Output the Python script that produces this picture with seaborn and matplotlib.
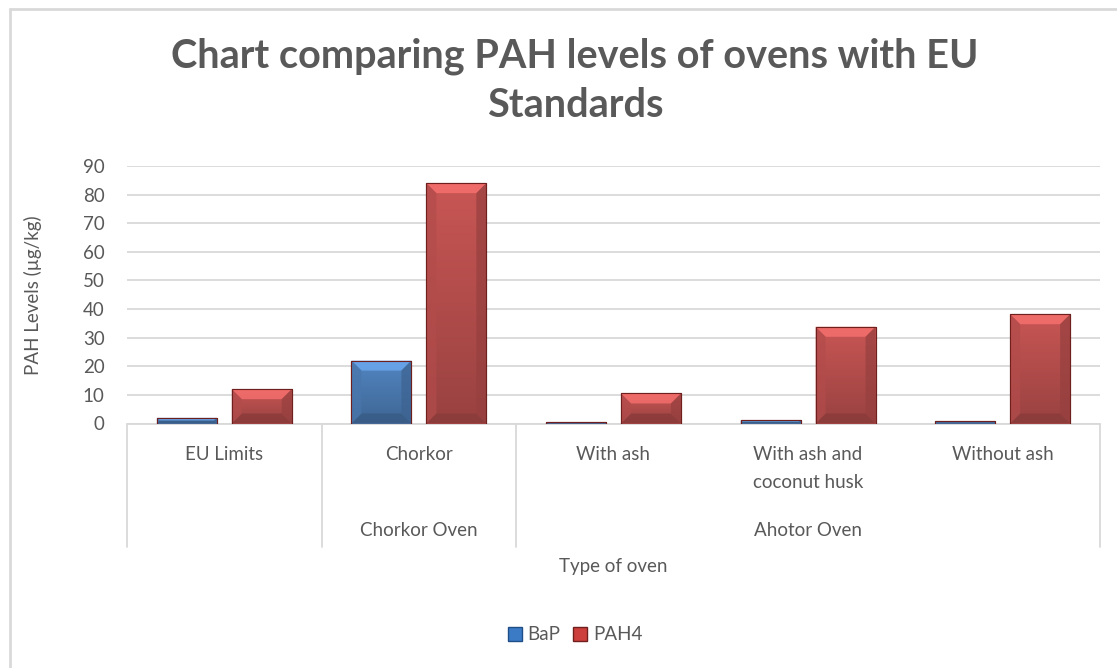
import numpy as np
import pandas as pd
import matplotlib
matplotlib.use('Agg')
import matplotlib.pyplot as plt
import seaborn as sns
from matplotlib.patches import Polygon, Patch
from matplotlib.lines import Line2D
from matplotlib.colors import to_rgb

# Data
ovens = ['EU Limits', 'Chorkor', 'With ash', 'With ash and\ncoconut husk', 'Without ash']
bap = [2, 22, 0.5, 1.2, 0.8]
pah4 = [12, 84, 10.5, 33.8, 38.2]
series = ['BaP', 'PAH4']
group_names = ['', 'Chorkor Oven', 'Ahotor Oven']
group_sizes = [1, 1, 3]

colors = ['#3B7BC6', '#CD3F3D']
edge_colors = ['#1F4E86', '#6E1F1E']
text_color = '#595959'
grid_color = '#D9D9D9'
fs = 13.5

df = pd.DataFrame({
    'oven': ovens * 2,
    'series': ['BaP'] * len(ovens) + ['PAH4'] * len(ovens),
    'value': bap + pah4,
})

sns.set_style('white')
plt.rcParams['font.family'] = ['Lato', 'DejaVu Sans']

W, H = 1117, 668
fig = plt.figure(figsize=(W / 100, H / 100), dpi=100)
ax = fig.add_axes([127 / W, 1 - 423.5 / H, 973 / W, 257.5 / H])

sns.barplot(data=df, x='oven', y='value', hue='series', hue_order=series,
            palette=colors, width=0.77, gap=0.2, ax=ax, legend=False,
            linewidth=0.8, zorder=3)

ax.set_ylim(0, 90)
ax.set_xlim(-0.5, len(ovens) - 0.5)
ax.set_yticks(range(0, 91, 10))
ax.tick_params(axis='y', length=0, labelsize=fs, labelcolor=text_color, pad=16)
ax.set_xticks([])
ax.set_xlabel('')
ax.set_ylabel('')
ax.yaxis.grid(True, color=grid_color, lw=1.3, zorder=0)
for s in ax.spines.values():
    s.set_visible(False)

# Bevel look for the bars
fig.canvas.draw()
inv = ax.transData.inverted()
px_x = abs(inv.transform((10, 0))[0] - inv.transform((0, 0))[0])
px_y = abs(inv.transform((0, 10))[1] - inv.transform((0, 0))[1])
bars = [p for p in ax.patches if p.get_height() > 0]
for p in bars:
    fc = np.array(to_rgb(p.get_facecolor()))
    idx = 0 if abs(fc - np.array(to_rgb(colors[0]))).sum() < 0.1 else 1
    p.set_edgecolor(edge_colors[idx])
    x0, y0 = p.get_x(), p.get_y()
    x1, y1 = x0 + p.get_width(), y0 + p.get_height()
    # vertical gradient fill
    grad = np.linspace(1.07, 0.82, 64).reshape(-1, 1)
    img = np.clip(fc[None, None, :] * grad[:, :, None], 0, 1)
    im = ax.imshow(img, extent=(x0, x1, y0, y1), aspect='auto', zorder=3.5,
                   interpolation='bilinear')
    im.set_clip_path(p)
    by = min(px_y, p.get_height() / 2)
    bx = px_x * by / px_y
    light = np.clip(fc * 1.3 + 0.05, 0, 1)
    dark = fc * 0.72
    side_l = fc * 0.95
    side_r = fc * 0.8
    polys = [
        ([(x0, y1), (x1, y1), (x1 - bx, y1 - by), (x0 + bx, y1 - by)], light),
        ([(x0, y0), (x1, y0), (x1 - bx, y0 + by), (x0 + bx, y0 + by)], dark),
        ([(x0, y0), (x0 + bx, y0 + by), (x0 + bx, y1 - by), (x0, y1)], side_l),
        ([(x1, y0), (x1 - bx, y0 + by), (x1 - bx, y1 - by), (x1, y1)], side_r),
    ]
    for pts, c in polys:
        ax.add_patch(Polygon(pts, closed=True, facecolor=c, edgecolor='none',
                             alpha=0.7, zorder=3.6))
    ax.add_patch(Polygon([(x0, y0), (x1, y0), (x1, y1), (x0, y1)], closed=True,
                         facecolor='none', edgecolor=edge_colors[idx], lw=0.8, zorder=3.7))

# Multi-level category axis
xt = ax.get_xaxis_transform()
line_kw = dict(color=grid_color, lw=1.3, clip_on=False, transform=xt, zorder=1)
ax.plot([-0.5, len(ovens) - 0.5], [0, 0], **line_kw)
bottom = -0.478
start = -0.5
bounds = [start]
for n in group_sizes:
    start += n
    bounds.append(start)
for b in bounds:
    ax.plot([b, b], [0, bottom], **line_kw)

for i, name in enumerate(ovens):
    ax.text(i, -0.088, name, transform=xt, ha='center', va='top', fontsize=fs,
            color=text_color, linespacing=1.75)

for k, name in enumerate(group_names):
    center = (bounds[k] + bounds[k + 1]) / 2
    ax.text(center, -0.417, name, transform=xt, ha='center', va='center',
            fontsize=fs, color=text_color)

ax.text(0.5, -0.557, 'Type of oven', transform=ax.transAxes, ha='center',
        va='center', fontsize=fs, color=text_color)

fig.text(33 / W, 1 - 295 / H, 'PAH Levels (µg/kg)', rotation=90, ha='center',
         va='center', fontsize=fs, color=text_color)

fig.text(575 / W, 1 - 81 / H, 'Chart comparing PAH levels of ovens with EU\nStandards',
         ha='center', va='center', fontsize=28.5, fontweight='bold', color=text_color,
         linespacing=1.4)

handles = [Patch(facecolor=colors[i], edgecolor=edge_colors[i], label=series[i])
           for i in range(2)]
fig.legend(handles=handles, loc='center', bbox_to_anchor=(575 / W, 1 - 635 / H),
           ncol=2, frameon=False, fontsize=fs, labelcolor=text_color,
           handlelength=0.75, handleheight=0.75, handletextpad=0.3, columnspacing=0.7)

# Chart border
fig.add_artist(Line2D([10 / W, 10 / W], [0, 1 - 8.5 / H], transform=fig.transFigure,
                      color=grid_color, lw=2))
fig.add_artist(Line2D([10 / W, 1], [1 - 8.5 / H, 1 - 8.5 / H], transform=fig.transFigure,
                      color=grid_color, lw=2))

fig.savefig('out.png', dpi=100)
